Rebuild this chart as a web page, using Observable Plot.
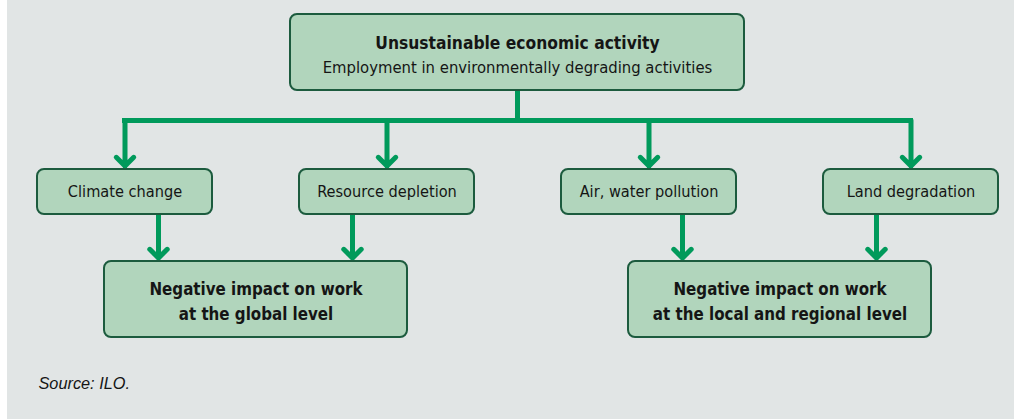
<!DOCTYPE html>
<html>
<head>
<meta charset="utf-8">
<script src="https://cdn.jsdelivr.net/npm/d3@7"></script>
<script src="https://cdn.jsdelivr.net/npm/@observablehq/plot@0.6"></script>
<style>
  html, body { margin: 0; padding: 0; }
  body { background: linear-gradient(to right, #ffffff 7px, #e1e5e5 7px); width: 1014px; height: 419px; overflow: hidden; }
  #chart svg { display: block; }
</style>
</head>
<body>
<div id="chart"></div>
<script>
// ---- content (data) ----
const topTitle = "Unsustainable economic activity";
const topSubtitle = "Employment in environmentally degrading activities";
const effects = ["Climate change", "Resource depletion", "Air, water pollution", "Land degradation"];
const impacts = ["Negative impact on work\nat the global level", "Negative impact on work\nat the local and regional level"];
const effectToImpact = [0, 0, 1, 1];
const sourceNote = "Source: ILO.";

// ---- layout (diagram units) ----
const topBox = {x1: 290, x2: 744, y1: 14, y2: 90};
const busY = 120;
const effectCenters = [124.5, 386.5, 648.5, 910.5];
const effectW = 175, effectY1 = 169, effectY2 = 214;
const impactCenters = [255.5, 779.5];
const impactW = 303, impactY1 = 261, impactY2 = 337;
const feedOffset = [33.5, -34.5, 33.5, -34.5];
const tipGap = 3.5;

// ---- styles ----
const boxFill = "#b1d5bc", boxStroke = "#1c5b3e", arrowGreen = "#009a5b", ink = "#151515";
const narrow = "'DejaVu Sans Condensed', 'Liberation Sans Narrow', sans-serif";

const topCenter = (topBox.x1 + topBox.x2) / 2;
const effectRows = effects.map((label, i) => ({
  label, cx: effectCenters[i], x1: effectCenters[i] - effectW / 2, x2: effectCenters[i] + effectW / 2,
  y1: effectY1, y2: effectY2, feedX: effectCenters[i] + feedOffset[i], target: effectToImpact[i]
}));
const impactRows = impacts.map((label, i) => ({
  label, cx: impactCenters[i], x1: impactCenters[i] - impactW / 2, x2: impactCenters[i] + impactW / 2,
  y1: impactY1, y2: impactY2
}));

const arrowStyle = {stroke: arrowGreen, strokeWidth: 5, headLength: 3.7, headAngle: 90, strokeLinejoin: "miter"};

const chart = Plot.plot({
  width: 1014,
  height: 419,
  margin: 0,
  style: {background: "transparent", overflow: "visible"},
  x: {type: "linear", domain: [0, 1014], range: [0, 1014], axis: null},
  y: {type: "linear", domain: [0, 419], range: [0, 419], axis: null},
  marks: [
    // connectors
    Plot.ruleX([topCenter], {y1: topBox.y2, y2: busY, stroke: arrowGreen, strokeWidth: 5}),
    Plot.ruleY([busY], {x1: d3.min(effectCenters), x2: d3.max(effectCenters), stroke: arrowGreen, strokeWidth: 5, strokeLinecap: "square"}),
    Plot.arrow(effectRows, {x1: "cx", x2: "cx", y1: busY, y2: effectY1 - tipGap, ...arrowStyle}),
    Plot.arrow(effectRows, {x1: "feedX", x2: "feedX", y1: effectY2, y2: impactY1 - tipGap, ...arrowStyle}),
    // boxes
    Plot.rect([topBox], {x1: "x1", x2: "x2", y1: "y1", y2: "y2", fill: boxFill, stroke: boxStroke, strokeWidth: 2, rx: 7}),
    Plot.rect(effectRows, {x1: "x1", x2: "x2", y1: "y1", y2: "y2", fill: boxFill, stroke: boxStroke, strokeWidth: 2, rx: 7}),
    Plot.rect(impactRows, {x1: "x1", x2: "x2", y1: "y1", y2: "y2", fill: boxFill, stroke: boxStroke, strokeWidth: 2, rx: 7}),
    // texts
    Plot.text([topTitle], {x: topCenter, y: 43, text: d => d, fontFamily: narrow, fontWeight: "bold", fontSize: 17.3, fill: ink}),
    Plot.text([topSubtitle], {x: topCenter, y: 67, text: d => d, fontFamily: narrow, fontSize: 16.5, fill: ink}),
    Plot.text(effectRows, {x: "cx", y: (effectY1 + effectY2) / 2, text: "label", fontFamily: narrow, fontSize: 16.2, fill: ink}),
    Plot.text(impactRows, {x: "cx", y: (impactY1 + impactY2) / 2, text: "label", fontFamily: narrow, fontWeight: "bold", fontSize: 16.8, lineHeight: 1.48, fill: ink}),
    Plot.text([sourceNote], {x: 38, y: 383, text: d => d, textAnchor: "start", fontFamily: "'Liberation Sans', Arial, sans-serif", fontStyle: "italic", fontSize: 16.3, fill: ink})
  ]
});
document.getElementById("chart").appendChild(chart);
</script>
</body>
</html>
